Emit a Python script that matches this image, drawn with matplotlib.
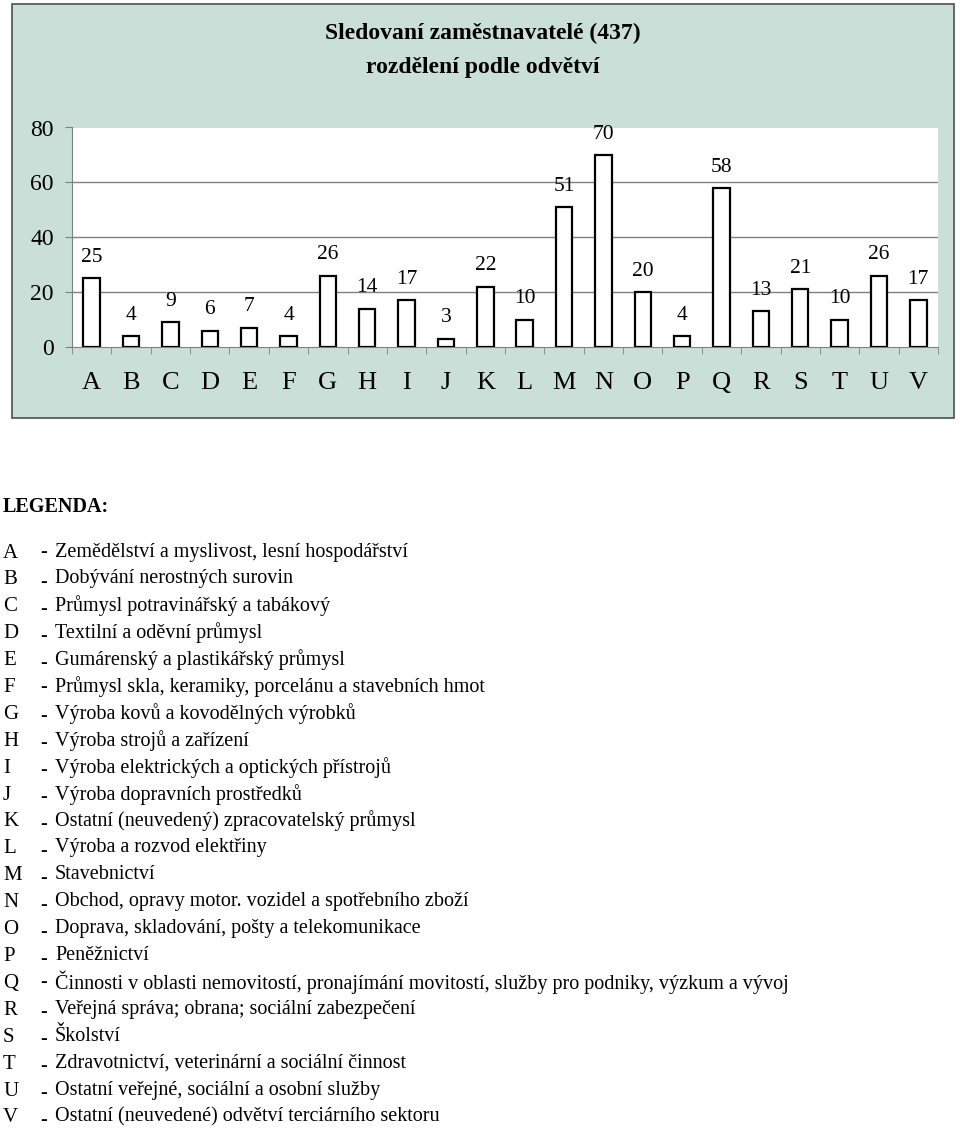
import matplotlib.pyplot as plt
from matplotlib.patches import Rectangle

plt.rcParams['font.family'] = ['Liberation Serif', 'DejaVu Serif']

letters = ["A", "B", "C", "D", "E", "F", "G", "H", "I", "J", "K",
           "L", "M", "N", "O", "P", "Q", "R", "S", "T", "U", "V"]
counts = [25, 4, 9, 6, 7, 4, 26, 14, 17, 3, 22,
          10, 51, 70, 20, 4, 58, 13, 21, 10, 26, 17]

descriptions = [
    "Zemědělství a myslivost, lesní hospodářství",
    "Dobývání nerostných surovin",
    "Průmysl potravinářský a tabákový",
    "Textilní a oděvní průmysl",
    "Gumárenský a plastikářský průmysl",
    "Průmysl skla, keramiky, porcelánu a stavebních hmot",
    "Výroba kovů a kovodělných výrobků",
    "Výroba strojů a zařízení",
    "Výroba elektrických a optických přístrojů",
    "Výroba dopravních prostředků",
    "Ostatní (neuvedený) zpracovatelský průmysl",
    "Výroba a rozvod elektřiny",
    "Stavebnictví",
    "Obchod, opravy motor. vozidel a spotřebního zboží",
    "Doprava, skladování, pošty a telekomunikace",
    "Peněžnictví",
    "Činnosti v oblasti nemovitostí, pronajímání movitostí, služby pro podniky, výzkum a vývoj",
    "Veřejná správa; obrana; sociální zabezpečení",
    "Školství",
    "Zdravotnictví, veterinární a sociální činnost",
    "Ostatní veřejné, sociální a osobní služby",
    "Ostatní (neuvedené) odvětví terciárního sektoru",
]
# rows whose dash sits at mid height (the rest sit low)
mid_dash = ["A", "F", "Q"]

title_lines = ["Sledovaní zaměstnavatelé (437)", "rozdělení podle odvětví"]

W, H = 960, 1129
fig = plt.figure(figsize=(W / 100, H / 100), dpi=100)

# green chart frame
fig.add_artist(Rectangle((12 / W, 1 - 418 / H), 942 / W, 414 / H,
                         transform=fig.transFigure, facecolor="#C9DFD7",
                         edgecolor="#5a5a5a", linewidth=1.3, zorder=0))

for ty, line in zip([33, 67], title_lines):
    fig.text(483 / W, 1 - ty / H, line, ha="center", va="center",
             fontsize=17, fontweight="bold")

ax = fig.add_axes([72 / W, 1 - 347 / H, 866 / W, 219.5 / H])
ax.set_facecolor("white")
x = list(range(len(letters)))
ax.bar(x, counts, width=0.42, color="white", edgecolor="black",
       linewidth=1.6, zorder=3)
for xi, v in zip(x, counts):
    ax.annotate(str(v), (xi, v), xytext=(0, 15), textcoords="offset points",
                ha="center", va="center", fontsize=15.5)

ax.set_xlim(-0.5, len(letters) - 0.5)
ax.set_ylim(0, 80)
ax.set_yticks([0, 20, 40, 60, 80])
ax.tick_params(axis="y", labelsize=17, length=5, color="#808080", pad=8)
for g in [20, 40, 60]:
    ax.axhline(g, color="#808080", linewidth=1, zorder=1)
ax.set_xticks(x)
ax.set_xticklabels(letters)
ax.tick_params(axis="x", labelsize=19, length=0, pad=18)
ax.set_xticks([i - 0.5 for i in range(len(letters) + 1)], minor=True)
ax.tick_params(axis="x", which="minor", length=5, color="#808080")
for s in ["top", "right"]:
    ax.spines[s].set_visible(False)
for s in ["left", "bottom"]:
    ax.spines[s].set_color("#808080")

# legend
fig.text(3 / W, 1 - 507 / H, "LEGENDA:", ha="left", va="center",
         fontsize=14.5, fontweight="bold")
y0 = 552
step = 26.9
for i, (let, desc) in enumerate(zip(letters, descriptions)):
    y = y0 + i * step
    fig.text(3 / W, 1 - (y + 1) / H, let, ha="left", va="center", fontsize=15)
    dy = 0 if let in mid_dash else 3
    fig.text(44 / W, 1 - (y + dy) / H, "-", ha="center", va="center",
             fontsize=14.5, fontweight="bold")
    fig.text(55 / W, 1 - y / H, desc, ha="left", va="center", fontsize=14.5)

fig.savefig("out.png", dpi=100)
